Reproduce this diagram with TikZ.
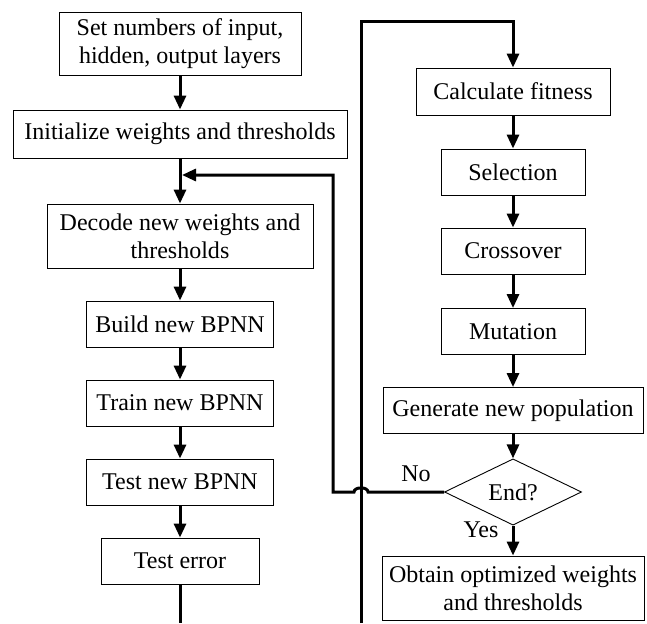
\documentclass[tikz,border=0pt]{standalone}
\usepackage{fontspec}
\setmainfont{Liberation Serif}
\usepackage{tikz}
\usetikzlibrary{arrows.meta,shapes.geometric}

\begin{document}
\begin{tikzpicture}[
  x=1pt, y=-1pt,
  every node/.style={font=\fontsize{24}{28}\selectfont},
  box/.style={draw, line width=0.9pt, inner sep=0pt, minimum height=46, align=center},
  decision/.style={draw, diamond, line width=0.9pt, inner sep=0pt, minimum width=137, minimum height=57},
  arrow/.style={-{Triangle[length=14pt, width=12pt]}, line width=3pt},
  line/.style={line width=3pt}
]
\useasboundingbox (0,0) rectangle (647,623);
\node[box, minimum width=242, minimum height=63] (setn) at (180,43.5) {Set numbers of input,\\hidden, output layers};
\node[box, minimum width=334, minimum height=48] (init) at (180,134) {Initialize weights and thresholds};
\node[box, minimum width=266, minimum height=64] (decode) at (180,236) {Decode new weights and\\thresholds};
\node[box, minimum width=187] (build) at (180,324) {Build new BPNN};
\node[box, minimum width=187] (train) at (180,403) {Train new BPNN};
\node[box, minimum width=187] (testnn) at (180,482) {Test new BPNN};
\node[box, minimum width=158] (testerr) at (180,561) {Test error};
\node[box, minimum width=194, minimum height=47] (fit) at (513,91.5) {Calculate fitness};
\node[box, minimum width=144] (sel) at (513,172) {Selection};
\node[box, minimum width=144] (cross) at (513,251) {Crossover};
\node[box, minimum width=144] (mut) at (513,331.5) {Mutation};
\node[box, minimum width=260] (gen) at (513,410.5) {Generate new population};
\node[decision] (stop) at (513,492) {End?};
\node[box, minimum width=262, minimum height=64] (obtain) at (513,588) {Obtain optimized weights\\and thresholds};
\node (no) at (416,474) {No};
\node (yes) at (481,530) {Yes};
\coordinate (bpBot) at (180,623);
\coordinate (gaBot) at (361,623);
\coordinate (gaTop) at (361,22);
\coordinate (loopIn) at (182,175);
% BP network side
\draw[arrow] (setn) -- (init);
\draw[arrow] (init) -- (decode);
\draw[arrow] (decode) -- (build);
\draw[arrow] (build) -- (train);
\draw[arrow] (train) -- (testnn);
\draw[arrow] (testnn) -- (testerr);
\draw[line] (testerr) -- (bpBot);
% GA side
\draw[arrow] (gaBot) -- (gaTop) -| (fit.north);
\draw[arrow] (fit) -- (sel);
\draw[arrow] (sel) -- (cross);
\draw[arrow] (cross) -- (mut);
\draw[arrow] (mut) -- (gen);
\draw[arrow] (gen) -- (stop);
\draw[arrow] (stop) -- (obtain);
\draw[arrow] (stop.west) -- (368,492) to[out=90, in=90] (354,492) -- (333,492) -- (333,175) -- (loopIn);
\end{tikzpicture}
\end{document}
